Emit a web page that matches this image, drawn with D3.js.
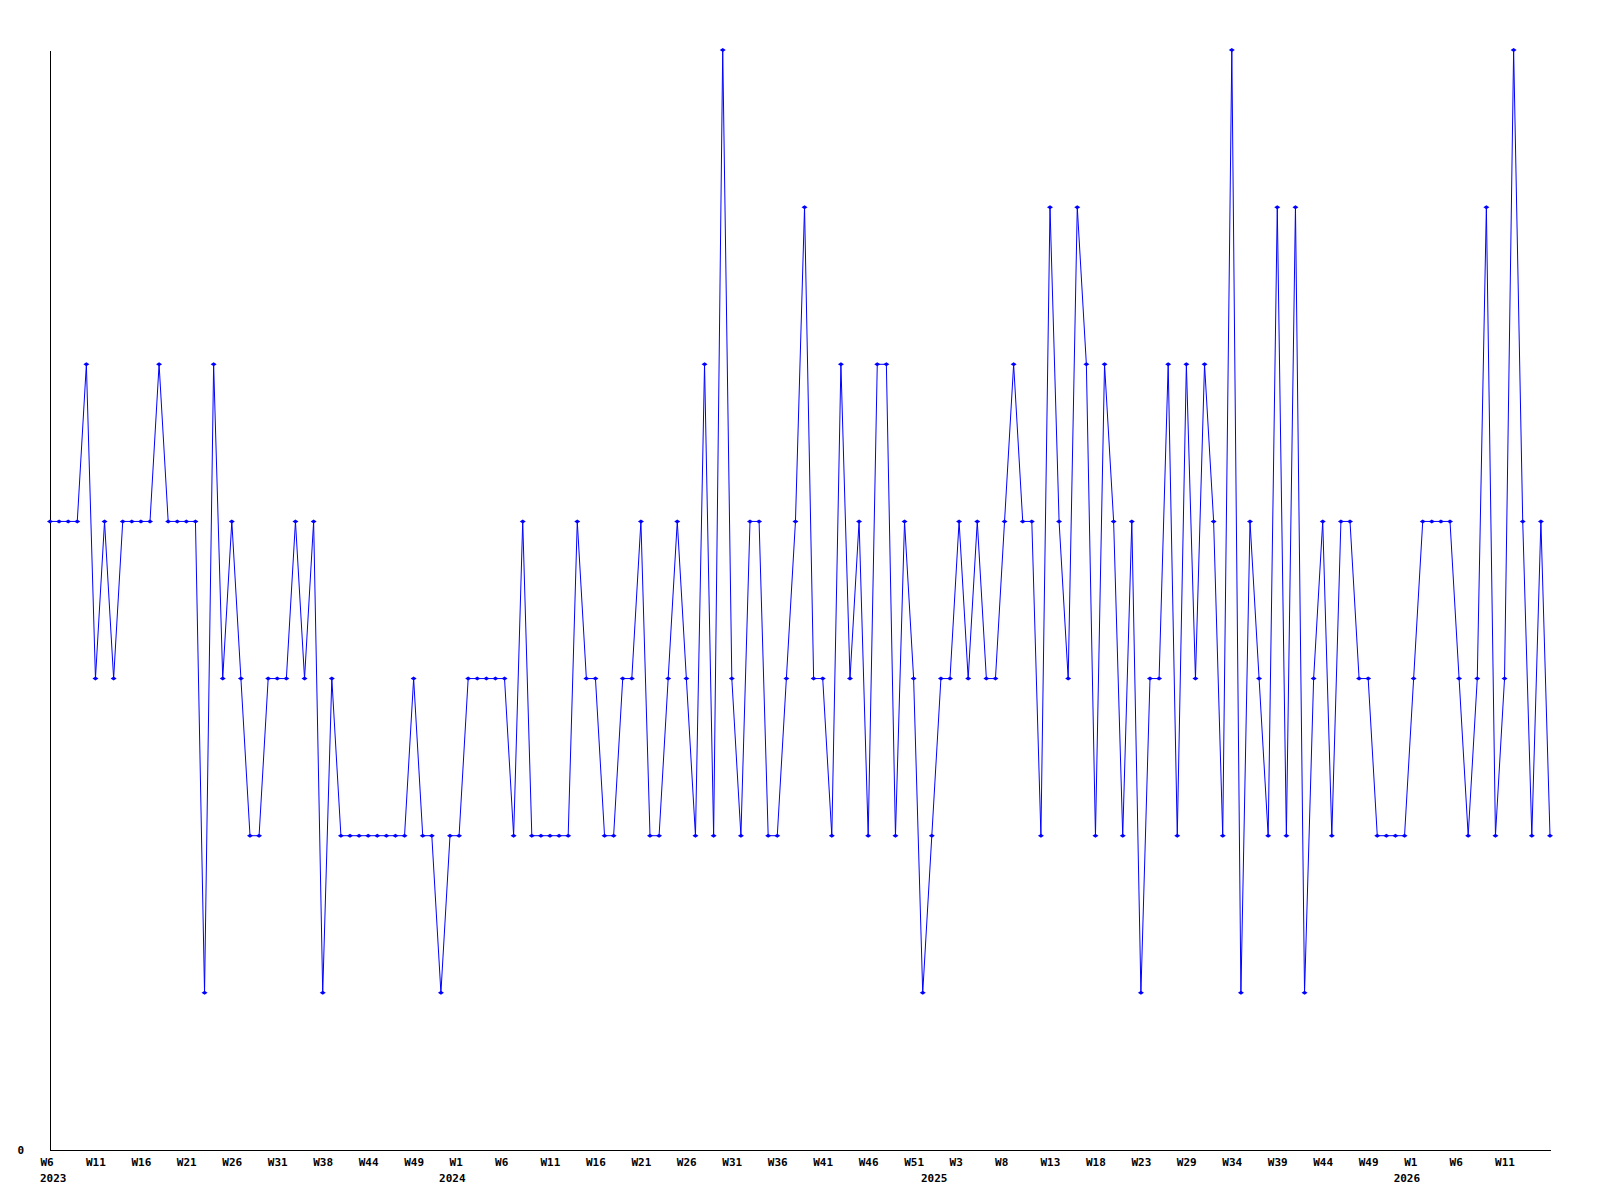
<!DOCTYPE html>
<html>
<head>
<meta charset="utf-8">
<script src="https://cdn.jsdelivr.net/npm/d3@7"></script>
<style>
  html, body { margin: 0; padding: 0; background: #ffffff; }
  svg { display: block; }
  .lbl { font-family: "DejaVu Sans Mono", "Liberation Mono", monospace; font-weight: bold; font-size: 11px; fill: #000; }
</style>
</head>
<body>
<svg id="chart" width="1600" height="1200"></svg>
<script>
// ---- data ----
const weeks = [
  // 2023
  "2023-W6","2023-W7","2023-W8","2023-W9","2023-W10","2023-W11","2023-W12","2023-W13","2023-W14","2023-W15",
  "2023-W16","2023-W17","2023-W18","2023-W19","2023-W20","2023-W21","2023-W22","2023-W23","2023-W24","2023-W25",
  "2023-W26","2023-W27","2023-W28","2023-W29","2023-W30","2023-W31","2023-W32","2023-W33","2023-W34","2023-W36",
  "2023-W38","2023-W39","2023-W40","2023-W41","2023-W42","2023-W44","2023-W45","2023-W46","2023-W47","2023-W48",
  "2023-W49","2023-W50","2023-W51","2023-W52","2023-W53",
  // 2024
  "2024-W1","2024-W2","2024-W3","2024-W4","2024-W5","2024-W6","2024-W7","2024-W8","2024-W9","2024-W10",
  "2024-W11","2024-W12","2024-W13","2024-W14","2024-W15","2024-W16","2024-W17","2024-W18","2024-W19","2024-W20",
  "2024-W21","2024-W22","2024-W23","2024-W24","2024-W25","2024-W26","2024-W27","2024-W28","2024-W29","2024-W30",
  "2024-W31","2024-W32","2024-W33","2024-W34","2024-W35","2024-W36","2024-W37","2024-W38","2024-W39","2024-W40",
  "2024-W41","2024-W42","2024-W43","2024-W44","2024-W45","2024-W46","2024-W47","2024-W48","2024-W49","2024-W50",
  "2024-W51","2024-W52","2024-W53",
  // 2025
  "2025-W1","2025-W2","2025-W3","2025-W4","2025-W5","2025-W6","2025-W7","2025-W8","2025-W9","2025-W10",
  "2025-W11","2025-W12","2025-W13","2025-W14","2025-W15","2025-W16","2025-W17","2025-W18","2025-W19","2025-W20",
  "2025-W21","2025-W22","2025-W23","2025-W24","2025-W25","2025-W26","2025-W27","2025-W29","2025-W30","2025-W31",
  "2025-W32","2025-W33","2025-W34","2025-W35","2025-W36","2025-W37","2025-W38","2025-W39","2025-W40","2025-W41",
  "2025-W42","2025-W43","2025-W44","2025-W45","2025-W46","2025-W47","2025-W48","2025-W49","2025-W50","2025-W51",
  "2025-W52","2025-W53",
  // 2026
  "2026-W1","2026-W2","2026-W3","2026-W4","2026-W5","2026-W6","2026-W7","2026-W8","2026-W9","2026-W10",
  "2026-W11","2026-W12","2026-W13","2026-W14","2026-W15","2026-W16"
];

const values = [
  4,4,4,4,5,3,4,3,4,4,
  4,4,5,4,4,4,4,1,5,3,
  4,3,2,2,3,3,3,4,3,4,
  1,3,2,2,2,2,2,2,2,2,
  3,2,2,1,2,2,3,3,3,3,
  3,2,4,2,2,2,2,2,4,3,
  3,2,2,3,3,4,2,2,3,4,
  3,2,5,2,7,3,2,4,4,2,
  2,3,4,6,3,3,2,5,3,4,
  2,5,5,2,4,3,1,2,3,3,
  4,3,4,3,3,4,5,4,4,2,
  6,4,3,6,5,2,5,4,2,4,
  1,3,3,5,2,5,3,5,4,2,
  7,1,4,3,2,6,2,6,1,3,
  4,2,4,4,3,3,2,2,2,2,
  3,4,4,4,4,3,2,3,6,2,
  3,7,4,2,4,2
];

// labelled week ticks
const tickWeeks = [
  "2023-W6","2023-W11","2023-W16","2023-W21","2023-W26","2023-W31","2023-W38","2023-W44","2023-W49",
  "2024-W1","2024-W6","2024-W11","2024-W16","2024-W21","2024-W26","2024-W31","2024-W36","2024-W41","2024-W46","2024-W51",
  "2025-W3","2025-W8","2025-W13","2025-W18","2025-W23","2025-W29","2025-W34","2025-W39","2025-W44","2025-W49",
  "2026-W1","2026-W6","2026-W11"
];
// year labels, anchored at the first week of each year
const yearNames = ["2023", "2024", "2025", "2026"];
const yearAnchors = ["2023-W6", "2024-W1", "2025-W1", "2026-W1"];
const yTicks = [0];

// ---- drawing ----
const svg = d3.select("#chart");
const mLeft = 50, mRight = 1550, mTop = 50, mBottom = 1150;

const x = d3.scalePoint().domain(weeks).range([mLeft, mRight]);
const y = d3.scaleLinear().domain([0, 7]).range([mBottom, mTop]);

const data = weeks.map((w, i) => ({ w, v: values[i] }));

// x axis
const gx = svg.append("g").attr("transform", `translate(0,${mBottom})`)
  .call(d3.axisBottom(x).tickValues(tickWeeks).tickSize(0).tickSizeOuter(0)
    .tickFormat(d => d.split("-")[1]));
gx.select(".domain").attr("stroke", "#000").attr("stroke-width", 1).attr("shape-rendering", "crispEdges");
gx.selectAll(".tick text")
  .attr("class", "lbl").attr("text-anchor", "start").attr("x", -10).attr("y", 16).attr("dy", null);
gx.attr("font-family", null).attr("font-size", null).attr("text-anchor", null);

gx.selectAll(".year").data(yearNames).join("text")
  .attr("class", "lbl year")
  .attr("text-anchor", "start")
  .attr("x", (d, i) => Math.max(x(yearAnchors[i]) - 20, mLeft - 10))
  .attr("y", 32)
  .text(d => d);

// y axis
const gy = svg.append("g").attr("transform", `translate(${mLeft},0)`)
  .call(d3.axisLeft(y).tickValues(yTicks).tickFormat(d3.format("d")).tickSize(0).tickSizeOuter(0).tickPadding(26));
gy.select(".domain").attr("stroke", "#000").attr("stroke-width", 1).attr("shape-rendering", "crispEdges");
gy.selectAll(".tick text").attr("class", "lbl").attr("dy", "0.35em");
gy.attr("font-family", null).attr("font-size", null);

// line
const line = d3.line().x(d => x(d.w)).y(d => y(d.v));
svg.append("path").datum(data)
  .attr("fill", "none").attr("stroke", "#0000ff").attr("stroke-width", 1)
  .attr("d", line);

// markers
svg.append("g").selectAll("path").data(data).join("path")
  .attr("transform", d => `translate(${x(d.w)},${y(d.v)})`)
  .attr("d", "M-3,0L0,-2L3,0L0,2Z")
  .attr("fill", "#0000ff");
</script>
</body>
</html>
